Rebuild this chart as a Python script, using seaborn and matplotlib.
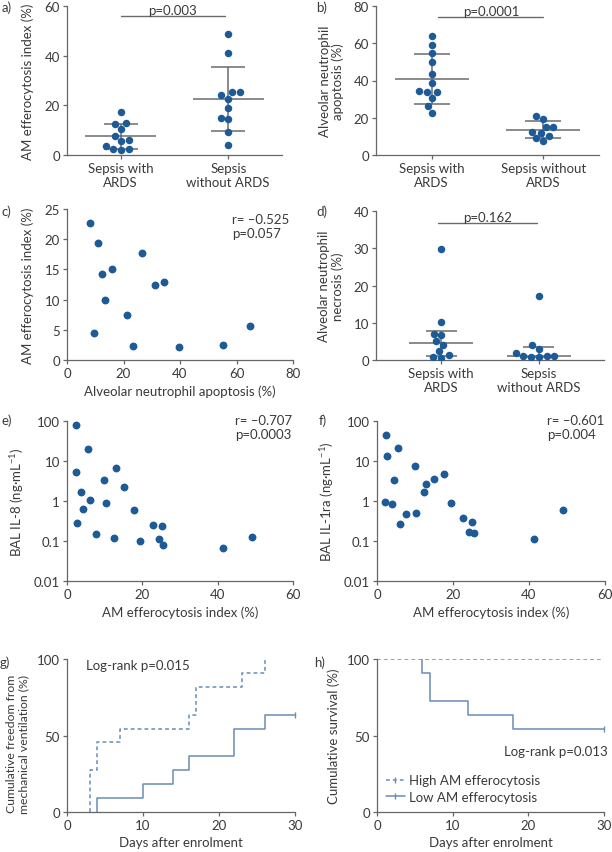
"""
Efferocytosis / sepsis panel figure (a-h), recreated with seaborn.
"""

import numpy as np
import pandas as pd
import matplotlib
matplotlib.use("Agg")
import matplotlib.pyplot as plt
from matplotlib.lines import Line2D
import seaborn as sns

sns.set_theme(style="ticks")
plt.rcParams["font.family"] = ["Lato", "DejaVu Sans"]
plt.rcParams["mathtext.default"] = "regular"
FS = 9.5
plt.rcParams["font.size"] = FS

DOT = "#1d5a96"
BAR = "#6b6b6b"
KM = "#6a8db5"
TXT = "#3a3a3a"
SPINE = "#666666"

# ---- data -------------------------------------------------------------
groups_ab = ["Sepsis with\nARDS", "Sepsis\nwithout ARDS"]
groups_b = ["Sepsis with\nARDS", "Sepsis without\nARDS"]

a_ards = [17.4, 12.7, 12.3, 10.3, 7.5, 5.9, 5.5, 3.7, 2.3, 2.3, 2.1]
a_no_ards = [48.7, 41.0, 25.2, 25.2, 24.0, 22.5, 19.1, 14.9, 14.3, 9.1, 4.2]

b_ards = [63.9, 59.3, 54.6, 50.0, 43.6, 38.9, 33.6, 33.6, 34.5, 30.4, 26.1, 22.7]
b_no_ards = [20.7, 19.3, 15.2, 15.2, 11.8, 12.5, 10.4, 8.9, 7.5]

c_apoptosis = [8.0, 11.1, 12.4, 16.1, 26.5, 13.3, 31.1, 34.2, 21.3, 9.6, 23.5, 39.5, 55.3, 64.7]
c_efferocytosis = [22.65, 19.3, 14.3, 15.1, 17.7, 9.9, 12.4, 12.9, 7.5, 4.4, 2.4, 2.2, 2.5, 5.6]

d_ards = [29.7, 10.3, 7.1, 6.7, 5.0, 4.1, 2.5, 1.3, 0.9, 0.6]
d_no_ards = [17.2, 4.1, 3.0, 2.0, 1.1, 1.1, 1.0, 0.7, 0.7]

e_efferocytosis = [2.5, 5.6, 2.3, 12.9, 9.9, 15.1, 3.7, 6.1, 10.3, 4.3, 17.7,
                   2.6, 22.8, 25.2, 7.6, 12.4, 19.4, 24.4, 25.4, 41.3, 49.1]
e_il8 = [78, 20.4, 5.3, 6.7, 3.3, 2.28, 1.65, 1.08, 0.89, 0.62, 0.61,
         0.28, 0.256, 0.237, 0.152, 0.121, 0.102, 0.114, 0.078, 0.066, 0.126]

f_efferocytosis = [2.3, 2.6, 5.6, 9.9, 4.5, 17.7, 15.1, 13.0, 12.3, 2.2, 3.9,
                   19.4, 7.5, 10.2, 6.0, 22.7, 25.1, 24.3, 25.5, 41.2, 49.0]
f_il1ra = [43.8, 13.3, 21.5, 7.6, 3.3, 4.8, 3.5, 2.66, 1.71, 0.93, 0.83,
           0.89, 0.46, 0.49, 0.27, 0.38, 0.30, 0.17, 0.156, 0.11, 0.58]

g_high_day = [3, 3, 4, 7, 16, 17, 23, 26]
g_high_pct = [0, 27.3, 45.5, 54.5, 63.6, 81.8, 90.9, 100]
g_low_day = [4, 4, 10, 14, 16, 22, 26, 30]
g_low_pct = [0, 9.1, 18.2, 27.3, 36.4, 54.5, 63.6, 63.6]

h_high_day = [0, 30]
h_high_pct = [100, 100]
h_low_day = [6, 6, 7, 12, 18, 30]
h_low_pct = [100, 90.9, 72.7, 63.6, 54.5, 54.5]

# ---- figure -----------------------------------------------------------
W, H = 612, 853
fig = plt.figure(figsize=(W / 100, H / 100), dpi=100)
DASH = (0, (2.5, 2))


def px_axes(l, r, t, b):
    return fig.add_axes([l / W, 1 - b / H, (r - l) / W, (b - t) / H])


def style(ax):
    sns.despine(ax=ax)
    for s in ["left", "bottom"]:
        ax.spines[s].set_color(SPINE)
        ax.spines[s].set_linewidth(0.9)
    ax.tick_params(colors=SPINE, labelcolor=TXT, labelsize=FS, length=3, width=0.9, pad=2)
    ax.xaxis.label.set_color(TXT)
    ax.yaxis.label.set_color(TXT)
    ax.xaxis.label.set_size(FS)
    ax.yaxis.label.set_size(FS)


def dot_panel(ax, v1, v2, cats, centre="mean"):
    df = pd.DataFrame({"group": [cats[0]] * len(v1) + [cats[1]] * len(v2),
                       "value": list(v1) + list(v2)})
    for i, v in enumerate([v1, v2]):
        v = np.asarray(v)
        if centre == "mean":
            mid = v.mean()
            sd = v.std(ddof=1)
            lo, hi = mid - sd, mid + sd
        else:
            # median with interquartile range
            mid = np.median(v)
            lo, hi = np.percentile(v, [25, 75], method="weibull")
        ax.hlines(mid, i - 0.33, i + 0.33, color=BAR, lw=1.1, zorder=2)
        ax.vlines(i, lo, hi, color=BAR, lw=1.1, zorder=2)
        ax.hlines([lo, hi], i - 0.16, i + 0.16, color=BAR, lw=1.1, zorder=2)
    sns.swarmplot(data=df, x="group", y="value", ax=ax, color=DOT, size=5.4,
                  linewidth=0, zorder=3)
    ax.set_xlabel("")


def sig_bar(ax, x0, x1, y, label):
    ax.plot([x0, x1], [y, y], color=BAR, lw=1.0, clip_on=False)
    ax.text((x0 + x1) / 2, y, label, ha="center", va="bottom", color=TXT,
            fontsize=FS, clip_on=False)


def corr_text(ax, x, y1, y2, r, p):
    ax.text(x, y1, r, transform=ax.transAxes, va="center", color=TXT, fontsize=FS)
    ax.text(x, y2, p, transform=ax.transAxes, va="center", color=TXT, fontsize=FS)


# a)
ax = px_axes(67, 282, 7, 156)
dot_panel(ax, a_ards, a_no_ards, groups_ab)
ax.set_ylim(0, 60)
ax.set_yticks([0, 20, 40, 60])
ax.set_xlim(-0.5, 1.5)
ax.set_ylabel("AM efferocytosis index (%)")
style(ax)
ax.yaxis.set_label_coords(-0.153, 0.5)
sig_bar(ax, 0.0, 0.97, 55.8, "p=0.003")

# b)
ax = px_axes(376, 599, 7, 156)
dot_panel(ax, b_ards, b_no_ards, groups_b)
ax.set_ylim(0, 80)
ax.set_yticks([0, 20, 40, 60, 80])
ax.set_xlim(-0.5, 1.5)
ax.set_ylabel("Alveolar neutrophil\napoptosis (%)", linespacing=1.1)
style(ax)
ax.yaxis.set_label_coords(-0.143, 0.5)
sig_bar(ax, 0.06, 1.0, 74.2, "p=0.0001")

# c)
ax = px_axes(67, 293, 210, 361)
sns.scatterplot(x=c_apoptosis, y=c_efferocytosis, ax=ax, color=DOT, s=32,
                linewidth=0, clip_on=False)
ax.set_xlim(0, 80)
ax.set_ylim(0, 25)
ax.set_xticks([0, 20, 40, 60, 80])
ax.set_yticks([0, 5, 10, 15, 20, 25])
ax.set_xlabel("Alveolar neutrophil apoptosis (%)")
ax.set_ylabel("AM efferocytosis index (%)")
style(ax)
ax.yaxis.set_label_coords(-0.146, 0.5)
corr_text(ax, 0.73, 0.935, 0.84, "r= \u20130.525", "p=0.057")

# d)
ax = px_axes(376, 604, 212, 361)
dot_panel(ax, d_ards, d_no_ards, groups_ab, centre="median")
ax.set_ylim(0, 40)
ax.set_yticks([0, 10, 20, 30, 40])
ax.set_xlim(-0.67, 1.67)
ax.set_ylabel("Alveolar neutrophil\nnecrosis (%)", linespacing=1.1)
style(ax)
ax.yaxis.set_label_coords(-0.14, 0.5)
sig_bar(ax, -0.03, 0.98, 36.8, "p=0.162")

# e) and f)
for l, r, xv, yv, ylab, rtxt, ptxt, lx in [
        (67, 293, e_efferocytosis, e_il8, "BAL IL-8 (ng\u00b7mL$^{-1}$)", "r= \u20130.707", "p=0.0003", 0.745),
        (377, 605, f_efferocytosis, f_il1ra, "BAL IL-1ra (ng\u00b7mL$^{-1}$)", "r= \u20130.601", "p=0.004", 0.745)]:
    ax = px_axes(l, r, 422, 582)
    sns.scatterplot(x=xv, y=yv, ax=ax, color=DOT, s=32, linewidth=0, clip_on=False)
    ax.set_yscale("log")
    ax.set_xlim(0, 60)
    ax.set_ylim(0.01, 100)
    ax.set_xticks([0, 20, 40, 60])
    ax.set_yticks([0.01, 0.1, 1, 10, 100])
    ax.set_yticklabels(["0.01", "0.1", "1", "10", "100"])
    ax.minorticks_off()
    ax.set_xlabel("AM efferocytosis index (%)")
    ax.set_ylabel(ylab)
    style(ax)
    ax.yaxis.set_label_coords(-0.18, 0.5)
    corr_text(ax, lx, 1.006, 0.92, rtxt, ptxt)

# g)
ax = px_axes(67, 295, 660, 813)
sns.lineplot(x=g_high_day, y=g_high_pct, ax=ax, estimator=None, sort=False,
             drawstyle="steps-post", color=KM, lw=1.1, linestyle=DASH)
sns.lineplot(x=g_low_day, y=g_low_pct, ax=ax, estimator=None, sort=False,
             drawstyle="steps-post", color=KM, lw=1.1)
ax.plot(g_low_day[-1], g_low_pct[-1], marker="|", ms=4, color=KM, clip_on=False)
ax.set_xlim(0, 30)
ax.set_ylim(0, 100)
ax.set_xticks([0, 10, 20, 30])
ax.set_yticks([0, 50, 100])
ax.set_xlabel("Days after enrolment")
ax.set_ylabel("Cumulative freedom from\nmechanical ventilation (%)", linespacing=1.1)
style(ax)
ax.yaxis.label.set_size(8.8)
ax.yaxis.set_label_coords(-0.167, 0.45)
ax.text(0.083, 0.96, "Log-rank p=0.015", transform=ax.transAxes, va="center", color=TXT, fontsize=FS)

# h)
ax = px_axes(377, 604, 660, 813)
sns.lineplot(x=h_low_day, y=h_low_pct, ax=ax, estimator=None, sort=False,
             drawstyle="steps-post", color=KM, lw=1.1)
sns.lineplot(x=h_high_day, y=h_high_pct, ax=ax, estimator=None, sort=False,
             drawstyle="steps-post", color=KM, lw=1.1, linestyle=DASH)
ax.plot(h_low_day[-1], h_low_pct[-1], marker="|", ms=4, color=KM, clip_on=False)
ax.set_xlim(0, 30)
ax.set_ylim(0, 100)
ax.set_xticks([0, 10, 20, 30])
ax.set_yticks([0, 50, 100])
ax.set_xlabel("Days after enrolment")
ax.set_ylabel("Cumulative survival (%)")
style(ax)
ax.yaxis.set_label_coords(-0.163, 0.5)
ax.text(1.018, 0.4, "Log-rank p=0.013", transform=ax.transAxes, ha="right", va="center",
        color=TXT, fontsize=FS)
handles = [Line2D([], [], color=KM, lw=1.1, linestyle=DASH, marker="|", ms=4),
           Line2D([], [], color=KM, lw=1.1, marker="|", ms=4)]
ax.legend(handles, ["High AM efferocytosis", "Low AM efferocytosis"], frameon=False,
          loc="lower left", bbox_to_anchor=(0.0, 0.0), fontsize=FS, handlelength=1.4,
          handletextpad=0.3, labelspacing=0.35, borderaxespad=0.3, labelcolor=TXT)

# panel letters
for lab, x, y in [("a)", 2, 1), ("b)", 316, 1), ("c)", 2, 205), ("d)", 316, 205),
                  ("e)", 2, 414), ("f)", 319, 414), ("g)", 0, 656), ("h)", 314, 656)]:
    fig.text(x / W, 1 - y / H, lab, ha="left", va="top", color=TXT, fontsize=FS)

fig.savefig("out.png", dpi=100)
